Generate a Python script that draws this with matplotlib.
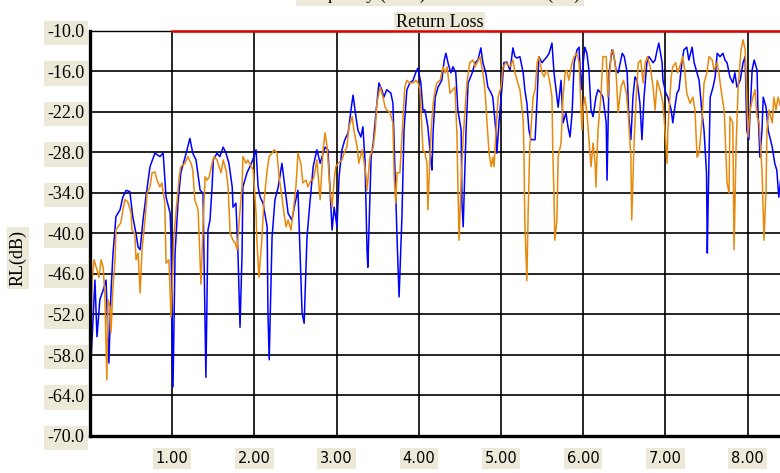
import numpy as np
import matplotlib
matplotlib.use('Agg')
import matplotlib.pyplot as plt

# frequency (GHz) / return loss (dB)
blue_f = [0.00, 0.06, 0.085, 0.12, 0.16, 0.195, 0.23, 0.255, 0.28, 0.30, 0.315, 0.365, 0.40, 0.44, 0.485,
          0.52, 0.56, 0.585, 0.61, 0.645, 0.68, 0.73, 0.79, 0.85, 0.89, 0.925, 0.975, 0.985,
          1.01, 1.035, 1.07, 1.105, 1.17, 1.215, 1.25, 1.29, 1.34, 1.375, 1.40, 1.41, 1.435, 1.46, 1.485,
          1.50, 1.545, 1.58, 1.62, 1.655, 1.69, 1.73, 1.74, 1.775, 1.80, 1.825, 1.85, 1.86, 1.91, 1.945, 1.98,
          2.02, 2.045, 2.07, 2.105, 2.155, 2.165, 2.18, 2.215, 2.25, 2.29, 2.335, 2.37, 2.41, 2.455, 2.495,
          2.53, 2.58, 2.605, 2.64, 2.675, 2.715, 2.76, 2.80, 2.835, 2.86, 2.895, 2.92, 2.945, 2.97,
          3.005, 3.03, 3.065, 3.10, 3.14, 3.175, 3.20, 3.235, 3.26, 3.295, 3.32, 3.345, 3.37, 3.38, 3.42, 3.445,
          3.49, 3.515, 3.55, 3.575, 3.61, 3.66, 3.685, 3.71, 3.735, 3.76, 3.795, 3.82, 3.855, 3.89, 3.93, 3.965, 3.99,
          4.025, 4.05, 4.075, 4.11, 4.15, 4.16, 4.175, 4.20, 4.235, 4.28, 4.31, 4.33, 4.355, 4.39, 4.415, 4.45,
          4.475, 4.515, 4.525, 4.54, 4.575, 4.60, 4.65, 4.685, 4.72, 4.755, 4.78, 4.815, 4.84, 4.88, 4.90,
          4.94, 4.95, 4.975,
          5.01, 5.035, 5.07, 5.11, 5.145, 5.17, 5.195, 5.23, 5.27, 5.29, 5.315, 5.34, 5.365, 5.415, 5.44, 5.46,
          5.50, 5.525, 5.56, 5.585, 5.62, 5.645, 5.68, 5.695, 5.73, 5.755, 5.79, 5.815, 5.84, 5.865, 5.89,
          5.925, 5.95, 5.975,
          6.00, 6.02, 6.045, 6.07, 6.095, 6.12, 6.155, 6.18, 6.215, 6.24, 6.28, 6.29, 6.315, 6.35, 6.375, 6.40,
          6.425, 6.475, 6.50, 6.535, 6.555, 6.58, 6.605, 6.63, 6.655, 6.69, 6.715, 6.74, 6.775, 6.80, 6.85,
          6.875, 6.90, 6.92, 6.96, 6.97,
          7.005, 7.03, 7.07, 7.09, 7.115, 7.14, 7.165, 7.20, 7.225, 7.26, 7.285, 7.325, 7.35, 7.385, 7.41,
          7.445, 7.47, 7.50, 7.51, 7.52, 7.545, 7.58, 7.605, 7.63, 7.665, 7.70, 7.725, 7.75, 7.785, 7.82,
          7.845, 7.87, 7.91, 7.945, 7.97, 7.99,
          8.015, 8.055, 8.08, 8.115, 8.125, 8.15, 8.175, 8.19, 8.225, 8.25, 8.30, 8.33, 8.355, 8.38, 8.42]
blue_db = [-62.0, -46.9, -55.3, -49.8, -48.4, -46.9, -59.2, -48.8, -42.9, -40.0, -37.5, -36.5, -34.6, -33.6, -33.8,
           -37.5, -40.0, -42.0, -42.4, -38.0, -34.6, -30.1, -28.1, -28.6, -28.1, -34.6, -37.0, -40.5,
           -62.7, -42.9, -35.5, -31.0, -28.1, -25.9, -28.1, -29.1, -33.6, -34.0, -52.8, -61.3, -39.5, -38.0, -33.1,
           -29.1, -28.1, -28.6, -27.2, -28.1, -29.6, -33.1, -36.1, -35.5, -42.9, -53.9, -42.9, -33.1, -31.0, -30.1, -29.1,
           -27.6, -33.1, -34.6, -35.5, -39.0, -51.8, -58.7, -40.5, -35.0, -33.1, -29.6, -33.1, -37.0, -38.0, -35.5,
           -33.6, -51.8, -53.3, -40.5, -35.5, -30.1, -27.6, -29.6, -28.1, -27.2, -27.6, -33.6, -39.5, -36.1,
           -39.0, -31.6, -27.6, -26.1, -25.1, -21.7, -19.5, -22.7, -24.7, -25.7, -24.2, -29.1, -42.4, -45.0, -28.7, -26.6,
           -20.7, -17.7, -18.7, -19.8, -18.7, -19.2, -20.7, -30.6, -40.5, -49.4, -37.5, -24.7, -18.7, -17.7, -17.3, -16.1, -15.5,
           -17.7, -21.7, -21.7, -24.2, -29.6, -30.6, -24.7, -19.8, -18.3, -17.3, -14.3, -13.3, -14.7, -16.2, -15.3, -16.2,
           -21.7, -24.7, -35.5, -39.0, -24.7, -17.7, -16.2, -14.7, -14.3, -12.5, -14.7, -16.2, -18.3, -19.2, -19.8,
           -25.1, -28.1, -23.6,
           -18.7, -14.7, -14.6, -15.8, -12.5, -13.8, -14.0, -13.8, -16.2, -18.7, -20.7, -24.7, -26.1, -26.1, -19.8, -13.8,
           -14.7, -14.3, -13.8, -13.3, -11.8, -16.2, -19.8, -21.3, -17.3, -23.6, -22.1, -24.2, -25.7, -22.1, -14.7,
           -12.8, -12.4, -18.7,
           -14.7, -12.4, -13.3, -15.8, -21.7, -22.7, -19.8, -18.7, -19.2, -19.8, -23.6, -32.1, -16.2, -12.8, -13.8, -15.8,
           -16.2, -13.3, -13.8, -16.2, -22.7, -26.1, -19.8, -16.8, -17.3, -20.7, -26.1, -19.8, -14.7, -13.8, -14.7,
           -14.3, -12.8, -11.8, -14.7, -17.3,
           -19.2, -19.8, -21.7, -23.6, -21.3, -19.2, -18.7, -14.7, -12.8, -12.4, -14.3, -12.4, -14.7, -16.2, -17.3,
           -22.1, -24.7, -31.0, -42.9, -35.5, -19.8, -18.3, -16.8, -13.3, -13.8, -13.3, -14.3, -14.7, -16.8, -17.7,
           -16.2, -18.3, -17.3, -14.7, -13.8, -24.7,
           -26.1, -15.8, -14.3, -15.8, -21.3, -28.7, -24.7, -19.8, -21.3, -24.7, -27.2, -29.6, -30.6, -34.6, -30.0]

orange_f = [0.01, 0.025, 0.05, 0.075, 0.11, 0.135, 0.16, 0.18, 0.205, 0.22, 0.245, 0.255, 0.28, 0.305, 0.315,
            0.34, 0.375, 0.40, 0.425, 0.46, 0.50, 0.51, 0.545, 0.56, 0.585, 0.61, 0.635, 0.67, 0.695, 0.73,
            0.755, 0.79, 0.815, 0.85, 0.875, 0.91, 0.925, 0.96, 0.985,
            1.00, 1.02, 1.045, 1.085, 1.105, 1.155, 1.19, 1.23, 1.25, 1.275, 1.315, 1.35, 1.375, 1.40, 1.425,
            1.45, 1.485, 1.51, 1.545, 1.57, 1.595, 1.62, 1.655, 1.68, 1.705, 1.74, 1.765, 1.79, 1.815, 1.85,
            1.86, 1.90, 1.92, 1.96, 1.985,
            2.02, 2.03, 2.055, 2.09, 2.115, 2.155, 2.18, 2.215, 2.24, 2.275, 2.30, 2.335, 2.36, 2.385, 2.41,
            2.445, 2.47, 2.505, 2.53, 2.565, 2.59, 2.63, 2.65, 2.69, 2.715, 2.74, 2.76, 2.80, 2.835, 2.86,
            2.885, 2.92, 2.945, 2.97, 2.99,
            3.02, 3.065, 3.09, 3.125, 3.15, 3.19, 3.21, 3.25, 3.27, 3.31, 3.33, 3.36, 3.37, 3.405, 3.445,
            3.47, 3.49, 3.53, 3.565, 3.59, 3.61, 3.65, 3.685, 3.70, 3.72, 3.735, 3.77, 3.81, 3.83, 3.855,
            3.89, 3.93, 3.965, 3.99,
            4.015, 4.05, 4.075, 4.10, 4.11, 4.15, 4.175, 4.20, 4.22, 4.26, 4.295, 4.32, 4.345, 4.38, 4.415,
            4.44, 4.465, 4.475, 4.49, 4.515, 4.54, 4.56, 4.585, 4.62, 4.66, 4.685, 4.71, 4.745, 4.78, 4.805,
            4.83, 4.855, 4.88, 4.90, 4.915, 4.94, 4.965,
            5.00, 5.025, 5.06, 5.11, 5.145, 5.17, 5.195, 5.23, 5.27, 5.28, 5.29, 5.315, 5.33, 5.35, 5.39,
            5.415, 5.44, 5.46, 5.50, 5.525, 5.55, 5.57, 5.595, 5.62, 5.63, 5.645, 5.655, 5.68, 5.695, 5.73,
            5.755, 5.78, 5.80, 5.825, 5.865, 5.89, 5.925, 5.95, 5.985,
            6.00, 6.02, 6.045, 6.07, 6.095, 6.12, 6.145, 6.155, 6.18, 6.215, 6.24, 6.28, 6.30, 6.34, 6.365,
            6.40, 6.425, 6.46, 6.49, 6.525, 6.55, 6.58, 6.59, 6.62, 6.645, 6.67, 6.70, 6.73, 6.755, 6.78,
            6.815, 6.85, 6.875, 6.90, 6.935, 6.97, 6.995,
            7.02, 7.03, 7.07, 7.09, 7.125, 7.15, 7.19, 7.21, 7.235, 7.26, 7.30, 7.335, 7.36, 7.385, 7.41,
            7.445, 7.47, 7.505, 7.53, 7.57, 7.59, 7.63, 7.65, 7.69, 7.715, 7.75, 7.775, 7.785, 7.82, 7.835,
            7.86, 7.885, 7.92, 7.945, 7.97, 7.99,
            8.005, 8.03, 8.065, 8.09, 8.115, 8.14, 8.175, 8.185, 8.20, 8.225, 8.235, 8.26, 8.30, 8.32, 8.345,
            8.37, 8.395, 8.43]
orange_db = [-57.7, -46.9, -43.9, -45.0, -46.5, -43.9, -45.0, -48.8, -61.7, -49.8, -50.9, -54.7, -47.9, -43.9, -39.5,
             -39.0, -38.4, -36.5, -35.0, -35.3, -37.0, -39.5, -40.0, -43.9, -42.9, -48.8, -42.0, -38.0, -34.0, -33.1,
             -31.0, -30.9, -32.1, -33.1, -32.5, -35.5, -44.4, -43.9, -52.4,
             -47.9, -40.5, -37.0, -31.6, -30.1, -29.6, -28.6, -29.6, -30.6, -35.0, -36.5, -47.5, -39.0, -31.6, -32.1,
             -31.6, -29.6, -28.6, -29.1, -30.1, -31.0, -29.1, -30.6, -33.1, -40.0, -41.0, -41.4, -42.4, -38.0, -33.1,
             -28.6, -29.6, -29.1, -30.1, -30.6,
             -37.0, -41.0, -46.5, -41.0, -35.5, -30.6, -28.6, -28.1, -27.6, -28.1, -31.6, -34.6, -37.0, -39.0, -38.0,
             -39.5, -37.0, -33.1, -28.1, -29.6, -32.5, -32.1, -33.1, -32.1, -32.0, -30.6, -29.1, -35.0, -27.6, -25.1,
             -27.2, -33.6, -36.1, -32.1, -30.1,
             -29.6, -29.1, -28.1, -27.2, -24.2, -22.7, -24.7, -27.2, -29.6, -27.6, -29.1, -31.6, -33.6, -28.7, -27.2,
             -24.7, -20.7, -18.3, -19.8, -21.3, -21.7, -22.1, -23.6, -31.6, -35.5, -31.0, -31.0, -22.7, -18.3, -17.3,
             -17.7, -17.7, -17.3, -17.7,
             -18.7, -27.6, -28.1, -29.6, -36.5, -24.7, -20.7, -18.7, -17.7, -17.3, -15.3, -16.2, -15.3, -19.2, -18.7,
             -18.3, -25.7, -32.5, -41.0, -32.1, -25.7, -22.1, -17.7, -14.7, -14.3, -15.3, -14.7, -13.8, -16.2, -18.7,
             -23.6, -28.1, -30.1, -28.7, -30.1, -24.7, -19.8,
             -18.3, -15.3, -14.7, -15.3, -14.3, -16.2, -17.3, -18.7, -23.2, -28.7, -38.4, -47.0, -37.0, -27.2, -19.8,
             -18.7, -14.7, -13.8, -16.2, -16.8, -15.8, -16.2, -17.7, -19.8, -27.6, -34.6, -41.0, -38.0, -28.7, -26.6,
             -19.8, -16.2, -15.8, -17.3, -14.7, -13.8, -13.3, -14.7, -24.7,
             -21.3, -19.8, -22.1, -26.1, -30.1, -26.6, -29.6, -33.1, -24.7, -19.8, -13.8, -13.8, -19.8, -13.3, -12.8,
             -16.2, -22.1, -18.3, -17.3, -19.2, -22.7, -28.7, -38.0, -26.1, -19.8, -14.7, -14.3, -17.7, -14.7, -13.8,
             -15.3, -18.3, -21.7, -17.3, -18.7, -20.7, -24.7,
             -29.6, -24.7, -16.8, -15.3, -14.7, -16.2, -14.7, -13.8, -15.8, -19.2, -20.7, -19.8, -21.7, -28.7, -28.1,
             -23.2, -17.7, -16.2, -13.8, -14.3, -15.8, -14.7, -16.2, -19.8, -21.7, -32.5, -34.0, -22.7, -23.6, -42.4,
             -27.2, -18.3, -12.8, -11.3, -12.8, -19.8,
             -25.7, -21.7, -19.8, -18.7, -22.7, -23.6, -30.6, -34.6, -41.0, -33.1, -24.7, -21.7, -23.6, -19.8, -21.7,
             -19.8, -21.0, -20.0]

limit_f = [1.0, 8.6]
limit_db = [-10.0, -10.0]

yticks = np.arange(-70, -9, 6)
xticks = [1, 2, 3, 4, 5, 6, 7, 8]

beige = '#ECE9D8'
serif = ['Liberation Serif', 'DejaVu Serif']

fig = plt.figure(figsize=(7.8, 4.73), dpi=100)
fig.patch.set_facecolor('white')
ax = fig.add_axes([90 / 780, 37 / 473, 8.5 * 82.2 / 780, 405 / 473])

ax.plot(blue_f, blue_db, color='#0000FF', lw=1.1)
ax.plot(orange_f, orange_db, color='#E8890C', lw=1.1)
ax.plot(limit_f, limit_db, color='#E00000', lw=1.8, clip_on=False, zorder=5)

ax.set_xlim(0, 8.5)
ax.set_ylim(-70, -10)
ax.set_xticks(xticks)
ax.set_yticks(yticks)
ax.set_xticklabels(['%.2f' % v for v in xticks], family='DejaVu Sans', fontsize=10.5)
ax.set_yticklabels(['%.1f' % v for v in yticks], family=serif, fontsize=13)
ax.tick_params(axis='both', length=0)
ax.tick_params(axis='x', pad=11)
ax.tick_params(axis='y', pad=4)
for lbl in ax.get_xticklabels() + ax.get_yticklabels():
    lbl.set_bbox(dict(boxstyle='square,pad=0.2', fc=beige, ec='none'))

ax.grid(True, color='black', lw=1.2)
ax.set_axisbelow(True)
ax.spines['left'].set_linewidth(2.4)
ax.spines['bottom'].set_linewidth(2.4)
ax.spines['top'].set_linewidth(1.0)
ax.spines['right'].set_visible(False)

ax.set_title('Return Loss', family=serif, fontsize=13, pad=2,
             bbox=dict(boxstyle='square,pad=0.1', fc=beige, ec='none'))
fig.text(18 / 780, 1 - 258 / 473, 'RL(dB)', rotation=90, ha='center', va='center',
         family=serif, fontsize=13, bbox=dict(boxstyle='square,pad=0.15', fc=beige, ec='none'))
# main title, mostly cut off at the top edge of the image
fig.text(440 / 780, 1 + 6 / 473, 'Frequency (GHz) vs. Return Loss (dB)', ha='center', va='center',
         family=serif, fontsize=13, bbox=dict(boxstyle='square,pad=0.2', fc=beige, ec='none'))

fig.savefig('out.png', dpi=100)
